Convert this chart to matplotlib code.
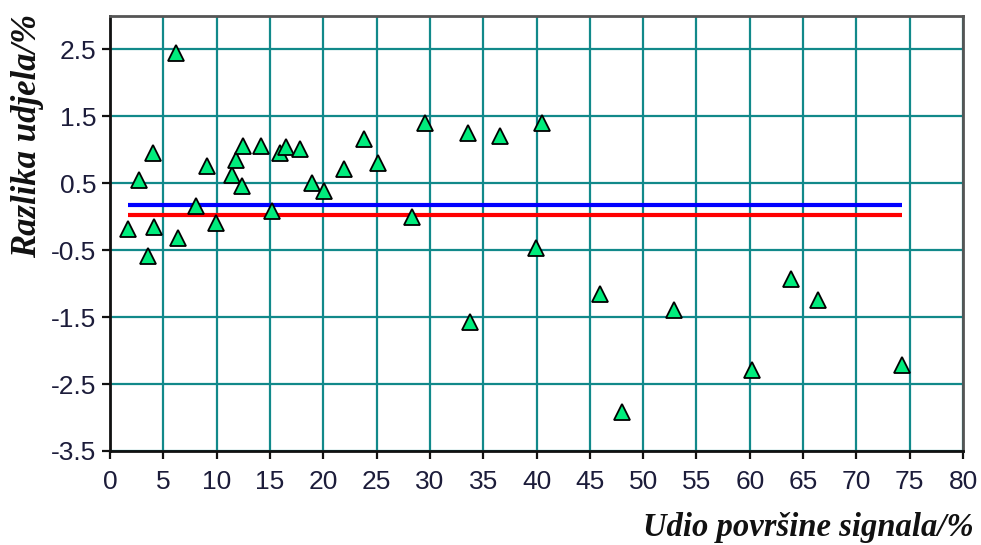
import matplotlib.pyplot as plt
import numpy as np

# udio povrsine signala (%) and razlika udjela (%)
udio = [1.66, 2.75, 3.54, 4.13, 4.06, 6.16, 6.35, 8.07, 9.13, 9.94,
        11.4, 11.8, 12.35, 12.5, 14.2, 15.17, 15.95, 16.5, 17.8, 18.9,
        20.1, 21.9, 23.8, 25.1, 28.36, 29.5, 33.6, 33.77, 36.6, 39.96,
        40.55, 46.0, 48.06, 52.9, 60.25, 63.85, 66.4, 74.3]
razlika = [-0.19, 0.55, -0.59, -0.16, 0.95, 2.45, -0.31, 0.16, 0.76, -0.09,
           0.63, 0.85, 0.46, 1.06, 1.06, 0.08, 0.95, 1.04, 1.01, 0.50,
           0.38, 0.71, 1.16, 0.80, 0.0, 1.40, 1.25, -1.57, 1.20, -0.46,
           1.40, -1.15, -2.92, -1.39, -2.29, -0.93, -1.24, -2.21]

# horizontal reference lines
blue_level = 0.17
red_level = 0.03

xticks = np.arange(0, 81, 5)
yticks = [-3.5, -2.5, -1.5, -0.5, 0.5, 1.5, 2.5]

fig = plt.figure(figsize=(9.81, 5.45), dpi=100)
ax = fig.add_axes([0.1121, 0.1725, 0.8696, 0.7981])

ax.set_xlim(0, 80)
ax.set_ylim(-3.5, 3.0)
ax.set_xticks(xticks)
ax.set_yticks(yticks)
ax.set_xticklabels([str(t) for t in xticks])
ax.set_yticklabels([str(t) for t in yticks])
ax.grid(True, color="#11898a", linewidth=1.6, zorder=0)
ax.set_axisbelow(True)

x0, x1 = min(udio), max(udio)
ax.plot([x0, x1], [blue_level, blue_level], color="#0000ff", lw=3, zorder=2,
        solid_capstyle="butt")
ax.plot([x0, x1], [red_level, red_level], color="#ff0000", lw=3, zorder=2,
        solid_capstyle="butt")

ax.plot(udio, razlika, linestyle="none", marker="^", markersize=11,
        markerfacecolor="#00ec7c", markeredgecolor="black",
        markeredgewidth=1.3, zorder=3)

for s in ["left", "bottom"]:
    ax.spines[s].set_color("#111111")
    ax.spines[s].set_linewidth(2)
for s in ["top", "right"]:
    ax.spines[s].set_color("#555555")
    ax.spines[s].set_linewidth(2)

ax.tick_params(direction="out", length=6, width=1.6, color="#111111",
               labelsize=19, labelcolor="#1c1c3a")
ax.tick_params(axis="x", pad=8)
ax.tick_params(axis="y", pad=4)
for lab in ax.get_xticklabels() + ax.get_yticklabels():
    lab.set_family("Liberation Sans")

fig.text(0.992, 0.033, "Udio površine signala/%", ha="right", va="center",
         family="Liberation Serif", style="italic", weight="bold",
         fontsize=23.5, color="#111111")
fig.text(0.028, 0.75, "Razlika udjela/%", ha="center", va="center",
         rotation=90, family="Liberation Serif", style="italic",
         weight="bold", fontsize=25, color="#111111")

fig.savefig("out.png", dpi=100)
